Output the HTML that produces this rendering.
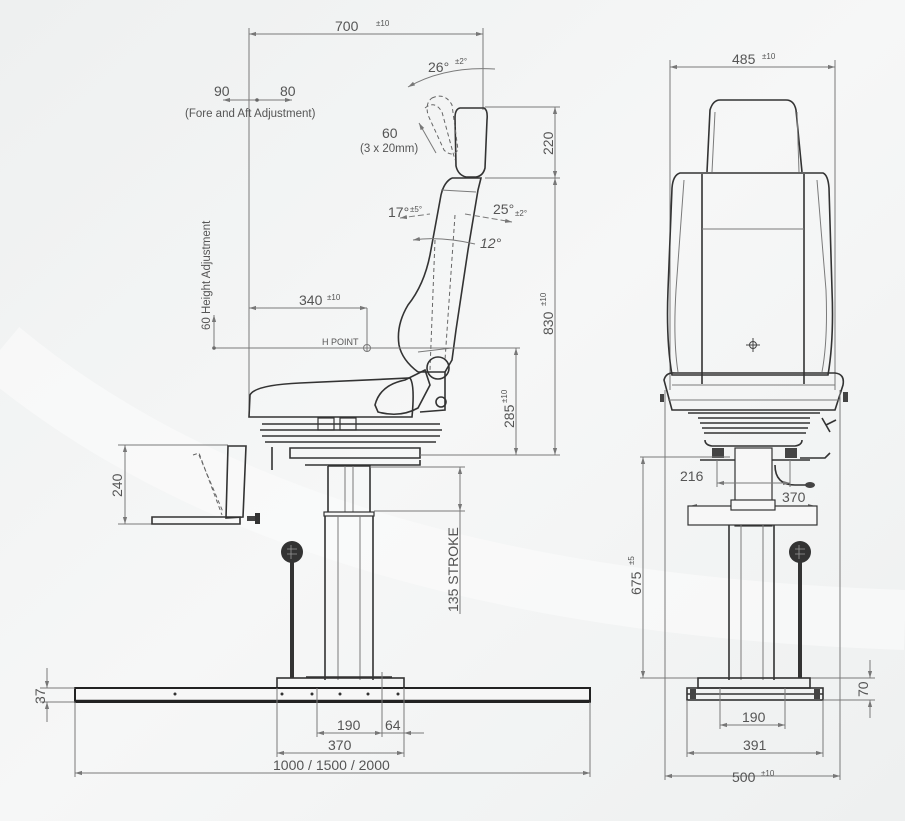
<!DOCTYPE html>
<html><head><meta charset="utf-8"><style>
html,body{margin:0;padding:0;background:#f3f4f4;}
svg{display:block;font-family:"Liberation Sans",sans-serif;}
.d{stroke:#7a7a7a;stroke-width:1;fill:none}
.k{stroke:#333;stroke-width:1.6;fill:none}
.kf{stroke:#333;stroke-width:1.2;fill:#f7f7f7}
.t{fill:#555;font-size:14px}
.s{fill:#555;font-size:8px}
.dash{stroke:#666;stroke-width:1;fill:none;stroke-dasharray:4 3}
</style></head><body>
<svg width="905" height="821" viewBox="0 0 905 821" xmlns="http://www.w3.org/2000/svg">
<defs>
<marker id="a" viewBox="0 0 10 10" refX="10" refY="5" markerWidth="7" markerHeight="7" orient="auto-start-reverse"><path d="M0,2 L10,5 L0,8z" fill="#777"/></marker>
<linearGradient id="bg" x1="0" y1="0" x2="1" y2="1"><stop offset="0" stop-color="#eef0f0"/><stop offset="0.5" stop-color="#f6f7f7"/><stop offset="1" stop-color="#eef0f0"/></linearGradient>
</defs>
<rect width="905" height="821" fill="url(#bg)"/>
<path d="M0,350 Q300,600 905,620" stroke="#fbfbfb" stroke-width="60" fill="none" opacity="0.6"/>

<!-- ========== LEFT VIEW ========== -->
<!-- 700 -->
<line class="d" x1="249" y1="34" x2="483" y2="34" marker-start="url(#a)" marker-end="url(#a)"/>
<line class="d" x1="249" y1="28" x2="249" y2="417"/>
<line class="d" x1="483" y1="28" x2="483" y2="110"/>
<text class="t" x="335" y="31">700</text><text class="s" x="376" y="26">±10</text>
<!-- 90/80 -->
<line class="d" x1="223" y1="100" x2="292" y2="100" marker-start="url(#a)" marker-end="url(#a)"/>
<circle cx="257" cy="100" r="1.8" fill="#666"/>
<text class="t" x="214" y="96">90</text><text class="t" x="280" y="96">80</text>
<text class="t" x="185" y="117" style="font-size:11.5px">(Fore and Aft Adjustment)</text>
<!-- 26 deg -->
<path class="d" d="M408,87 Q445,66 495,69" marker-start="url(#a)"/>
<text class="t" x="428" y="72">26°</text><text class="s" x="455" y="64">±2°</text>
<!-- headrest -->
<path class="k" d="M460,108 L484,108 Q488,110 487,120 L485,168 Q483,176 476,177 L466,177 Q458,175 456,166 L455,118 Q455,109 460,108z"/>
<path class="dash" d="M432,98 Q445,92 452,105 L458,150 Q452,158 444,150 L428,115 Q425,103 432,98z"/>
<path class="dash" d="M425,108 Q435,100 442,112 L455,160"/>
<line class="d" x1="436" y1="153" x2="419" y2="123" marker-end="url(#a)" stroke-width="1.5"/>
<text class="t" x="382" y="138">60</text>
<text class="t" x="360" y="152" style="font-size:11.5px">(3 x 20mm)</text>
<!-- 220 -->
<line class="d" x1="485" y1="107" x2="560" y2="107"/>
<line class="d" x1="485" y1="178" x2="560" y2="178"/>
<line class="d" x1="555" y1="107" x2="555" y2="178" marker-start="url(#a)" marker-end="url(#a)"/>
<line class="d" x1="555" y1="178" x2="555" y2="455" marker-start="url(#a)" marker-end="url(#a)"/>
<text class="t" transform="translate(553,155) rotate(-90)">220</text>
<text class="t" transform="translate(553,335) rotate(-90)">830</text><text class="s" transform="translate(546,306) rotate(-90)">±10</text>
<!-- backrest -->
<path class="k" d="M452,178 L481,178 L478,190 L468,250 L456,330 L452,360 L445,372"/>
<path class="k" d="M452,178 Q444,182 441,195 L430,255 Q424,285 408,305 Q396,325 399,345 Q402,360 418,372"/>
<path class="d" d="M441,190 L476,192 M418,352 L452,348"/>
<path class="dash" d="M435,240 L430,370 M455,215 L445,360" stroke-dasharray="8 3 2 3"/>
<text class="t" x="388" y="217">17°</text><text class="s" x="410" y="212">±5°</text>
<text class="t" x="493" y="214">25°</text><text class="s" x="515" y="216">±2°</text>
<text class="t" x="480" y="248" font-style="italic">12°</text>
<path class="d" d="M400,218 L430,214 M465,214 L512,222" stroke-dasharray="6 3" marker-start="url(#a)" marker-end="url(#a)"/>
<path class="d" d="M413,240 Q440,236 475,244" marker-start="url(#a)"/>
<!-- seat cushion -->
<path class="k" d="M250,395 Q255,385 300,383 L410,378 Q415,385 412,417 L249,417 Z"/>
<path class="k" d="M375,405 Q380,385 405,380 L425,370 L430,385 L418,408 Q400,418 378,412Z"/>
<circle class="k" cx="438" cy="368" r="11"/>
<circle class="k" cx="441" cy="402" r="5"/>
<path class="k" d="M418,372 L445,372 L445,410 L420,412"/>
<!-- springs -->
<rect class="kf" x="318" y="418" width="16" height="12"/><rect class="kf" x="340" y="418" width="16" height="12"/>
<path class="k" d="M262,424 L440,424 M260,430 L442,430 M262,436 L440,436 M265,442 L436,442" stroke-width="2"/>
<path class="k" d="M290,448 L420,448 L420,458 L290,458Z" stroke-width="1.8"/>
<path class="k" d="M305,465 L420,465 L420,460"/>
<line class="k" x1="272" y1="447" x2="272" y2="470"/>
<!-- H point / height -->
<line class="d" x1="214" y1="348" x2="520" y2="348"/>
<circle cx="214" cy="348" r="1.8" fill="#666"/>
<line class="d" x1="214" y1="348" x2="214" y2="315" marker-end="url(#a)"/>
<circle class="d" cx="367" cy="348" r="3.5" stroke-width="1.5"/>
<line class="d" x1="249" y1="308" x2="367" y2="308" marker-start="url(#a)" marker-end="url(#a)"/>
<line class="d" x1="367" y1="308" x2="367" y2="352"/>
<text class="t" x="299" y="305">340</text><text class="s" x="327" y="300">±10</text>
<text x="322" y="345" fill="#555" font-size="9px">H POINT</text>
<text class="t" transform="translate(210,330) rotate(-90)" style="font-size:11.5px">60  Height Adjustment</text>
<!-- 285 -->
<line class="d" x1="516" y1="348" x2="516" y2="455" marker-start="url(#a)" marker-end="url(#a)"/>
<line class="d" x1="420" y1="455" x2="560" y2="455"/>
<text class="t" transform="translate(514,428) rotate(-90)">285</text><text class="s" transform="translate(507,403) rotate(-90)">±10</text>
<!-- footrest -->
<line class="d" x1="118" y1="445" x2="228" y2="445"/>
<line class="d" x1="118" y1="524" x2="152" y2="524"/>
<line class="d" x1="125" y1="445" x2="125" y2="524" marker-start="url(#a)" marker-end="url(#a)"/>
<text class="t" transform="translate(122,497) rotate(-90)">240</text>
<path class="k" d="M228,446 L246,446 L243,517 L226,518 Z" stroke-width="1.3"/>
<path class="k" d="M152,517 L240,517 L240,524 L152,524Z" stroke-width="1.3"/>
<path class="dash" d="M193,455 L199,453 L222,515"/>
<path class="dash" d="M199,455 L223,512"/>
<rect x="247" y="516" width="8" height="5" fill="#444"/><rect x="255" y="513" width="5" height="11" fill="#333"/>
<!-- column -->
<path class="k" d="M328,466 L370,466 L370,512 M328,466 L328,512" stroke-width="1.2"/>
<line class="d" x1="345" y1="466" x2="345" y2="512"/><line class="d" x1="353" y1="466" x2="353" y2="512"/>
<rect class="kf" x="324" y="512" width="50" height="4"/>
<path class="k" d="M325,516 L325,680 M373,516 L373,680" stroke-width="1.2"/>
<line class="d" x1="338" y1="516" x2="338" y2="680"/><line class="d" x1="360" y1="516" x2="360" y2="680"/>
<!-- stroke -->
<line class="d" x1="370" y1="467" x2="465" y2="467"/>
<line class="d" x1="374" y1="511" x2="465" y2="511"/>
<line class="d" x1="460" y1="467" x2="460" y2="511" marker-start="url(#a)" marker-end="url(#a)"/>
<line class="d" x1="460" y1="511" x2="460" y2="614"/>
<text class="t" transform="translate(458,612) rotate(-90)">135 STROKE</text>
<!-- lever -->
<circle cx="292" cy="552" r="11" fill="#333"/>
<path d="M287,549 h10 M287,554 h10 M291,545 v14" stroke="#999" stroke-width="0.8"/>
<rect x="290" y="562" width="4" height="116" fill="#333"/>
<!-- base -->
<rect class="k" x="277" y="678" width="127" height="10" stroke-width="1.6"/>
<line class="k" x1="306" y1="677" x2="392" y2="677"/>
<rect x="75" y="688" width="515" height="14" fill="#f7f7f7" stroke="#222" stroke-width="2"/>
<line x1="75" y1="701" x2="590" y2="701" stroke="#222" stroke-width="2.5"/>
<g fill="#333"><circle cx="175" cy="694" r="1.5"/><circle cx="282" cy="694" r="1.5"/><circle cx="312" cy="694" r="1.5"/><circle cx="340" cy="694" r="1.5"/><circle cx="368" cy="694" r="1.5"/><circle cx="398" cy="694" r="1.5"/></g>
<!-- 37 -->
<line class="d" x1="40" y1="688" x2="75" y2="688"/><line class="d" x1="40" y1="702" x2="75" y2="702"/>
<line class="d" x1="47" y1="668" x2="47" y2="688" marker-end="url(#a)"/>
<line class="d" x1="47" y1="722" x2="47" y2="702" marker-end="url(#a)"/>
<text class="t" transform="translate(45,704) rotate(-90)">37</text>
<!-- bottom dims -->
<line class="d" x1="317" y1="688" x2="317" y2="737"/><line class="d" x1="382" y1="672" x2="382" y2="737"/>
<line class="d" x1="277" y1="688" x2="277" y2="757"/><line class="d" x1="404" y1="688" x2="404" y2="757"/>
<line class="d" x1="75" y1="702" x2="75" y2="777"/><line class="d" x1="590" y1="702" x2="590" y2="777"/>
<line class="d" x1="317" y1="733" x2="382" y2="733" marker-start="url(#a)" marker-end="url(#a)"/>
<line class="d" x1="382" y1="733" x2="424" y2="733"/>
<line class="d" x1="412" y1="733" x2="404" y2="733" marker-end="url(#a)"/>
<text class="t" x="337" y="730">190</text><text class="t" x="385" y="730">64</text>
<line class="d" x1="277" y1="753" x2="404" y2="753" marker-start="url(#a)" marker-end="url(#a)"/>
<text class="t" x="328" y="750">370</text>
<line class="d" x1="75" y1="773" x2="590" y2="773" marker-start="url(#a)" marker-end="url(#a)"/>
<text class="t" x="273" y="770">1000 / 1500 / 2000</text>

<!-- ========== RIGHT VIEW ========== -->
<line class="d" x1="670" y1="67" x2="835" y2="67" marker-start="url(#a)" marker-end="url(#a)"/>
<line class="d" x1="670" y1="60" x2="670" y2="390"/><line class="d" x1="835" y1="60" x2="835" y2="390"/>
<text class="t" x="732" y="64">485</text><text class="s" x="762" y="59">±10</text>
<!-- headrest -->
<path class="k" d="M707,172 L710,110 Q713,100 720,100 L786,100 Q794,100 796,110 L802,172" stroke-width="1.3"/>
<path class="d" d="M712,172 L715,112 M797,112 L799,172"/>
<!-- backrest -->
<path class="k" d="M680,173 L823,173 Q828,175 829,188 L832,290 Q834,340 828,375 L672,375 Q666,340 668,290 L672,188 Q673,175 680,173Z" stroke-width="1.3"/>
<path class="d" d="M684,180 L676,290 Q673,340 678,372 M817,180 L826,290 Q828,340 822,372"/>
<line class="k" x1="702" y1="174" x2="702" y2="384" stroke-width="1"/>
<line class="k" x1="804" y1="174" x2="804" y2="384" stroke-width="1"/>
<line class="d" x1="702" y1="229" x2="804" y2="229"/>
<circle cx="753" cy="345" r="3.5" fill="none" stroke="#444"/><path d="M746,345 h14 M753,338 v14" stroke="#444" stroke-width="1"/>
<!-- seat -->
<path class="k" d="M664,380 Q666,372 675,373 L835,373 Q845,374 843,385 L835,410 L672,410 Z" stroke-width="1.4"/>
<path class="d" d="M672,385 L835,385 M668,400 L840,400"/>
<rect x="660" y="394" width="4" height="8" fill="#444"/><rect x="843" y="392" width="5" height="10" fill="#444"/>
<path class="k" d="M822,418 L830,432 M826,425 L836,420" stroke-width="2"/>
<!-- springs -->
<path class="k" d="M688,413 L820,413 M698,418 L810,418 M700,423 L810,423 M702,428 L808,428 M704,433 L806,433" stroke-width="1.6"/>
<path class="k" d="M705,440 Q705,445 712,446 L795,446 Q802,445 802,440" stroke-width="1.2"/>
<rect x="712" y="448" width="12" height="10" fill="#444"/><rect x="785" y="448" width="12" height="10" fill="#444"/>
<line class="k" x1="700" y1="460" x2="810" y2="460"/>
<path class="k" d="M800,458 L825,458 L830,453" stroke-width="1.2"/>
<path class="k" d="M775,465 Q775,485 795,485 L808,485" stroke-width="1.2"/>
<ellipse cx="810" cy="485" rx="5" ry="3" fill="#444"/>
<!-- column head -->
<rect class="kf" x="735" y="448" width="37" height="78"/>
<!-- 216 / 370 -->
<line class="d" x1="717" y1="460" x2="717" y2="487"/><line class="d" x1="790" y1="460" x2="790" y2="487"/>
<line class="d" x1="717" y1="483" x2="790" y2="483" marker-start="url(#a)" marker-end="url(#a)"/>
<text class="t" x="680" y="481">216</text>
<line class="d" x1="690" y1="506" x2="815" y2="506" marker-start="url(#a)" marker-end="url(#a)"/>
<text class="t" x="782" y="502">370</text>
<rect class="kf" x="688" y="506" width="129" height="19" fill="none"/>
<rect class="kf" x="731" y="500" width="44" height="10"/>
<!-- column -->
<path class="k" d="M729,525 L729,680 M774,525 L774,680" stroke-width="1.2"/>
<line class="d" x1="741" y1="525" x2="741" y2="680"/><line class="d" x1="763" y1="525" x2="763" y2="680"/>
<!-- lever -->
<circle cx="800" cy="552" r="11" fill="#333"/>
<path d="M795,549 h10 M795,554 h10 M799,545 v14" stroke="#999" stroke-width="0.8"/>
<rect x="798" y="562" width="4" height="116" fill="#333"/>
<!-- 675 -->
<line class="d" x1="640" y1="457" x2="730" y2="457"/>
<line class="d" x1="640" y1="678" x2="875" y2="678"/>
<line class="d" x1="643" y1="457" x2="643" y2="678" marker-start="url(#a)" marker-end="url(#a)"/>
<text class="t" transform="translate(641,595) rotate(-90)">675</text><text class="s" transform="translate(634,565) rotate(-90)">±5</text>
<!-- base -->
<rect class="k" x="698" y="678" width="112" height="10" stroke-width="1.5"/>
<rect class="k" x="687" y="688" width="136" height="12" stroke-width="1.5"/>
<line class="k" x1="687" y1="694" x2="823" y2="694"/>
<rect x="690" y="689" width="6" height="10" fill="#444"/><rect x="814" y="689" width="6" height="10" fill="#444"/>
<!-- 70 -->
<line class="d" x1="823" y1="700" x2="875" y2="700"/>
<line class="d" x1="870" y1="660" x2="870" y2="678" marker-end="url(#a)"/>
<line class="d" x1="870" y1="718" x2="870" y2="700" marker-end="url(#a)"/>
<text class="t" transform="translate(868,697) rotate(-90)">70</text>
<!-- bottom dims -->
<line class="d" x1="720" y1="688" x2="720" y2="729"/><line class="d" x1="785" y1="688" x2="785" y2="729"/>
<line class="d" x1="720" y1="725" x2="785" y2="725" marker-start="url(#a)" marker-end="url(#a)"/>
<text class="t" x="742" y="722">190</text>
<line class="d" x1="687" y1="700" x2="687" y2="757"/><line class="d" x1="823" y1="700" x2="823" y2="757"/>
<line class="d" x1="687" y1="753" x2="823" y2="753" marker-start="url(#a)" marker-end="url(#a)"/>
<text class="t" x="743" y="750">391</text>
<line class="d" x1="665" y1="390" x2="665" y2="780"/><line class="d" x1="840" y1="390" x2="840" y2="780"/>
<line class="d" x1="665" y1="776" x2="840" y2="776" marker-start="url(#a)" marker-end="url(#a)"/>
<text class="t" x="732" y="782">500</text><text class="s" x="761" y="776">±10</text>
</svg>
</body></html>
